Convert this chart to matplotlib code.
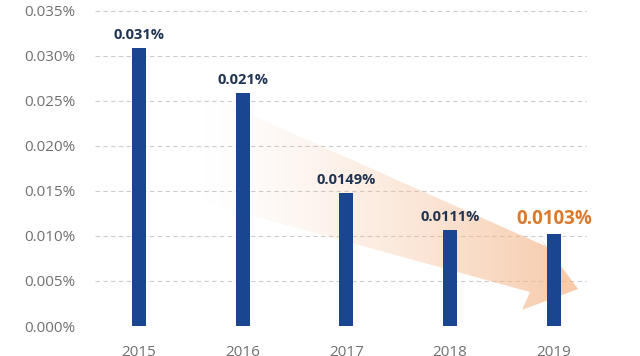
import numpy as np
import matplotlib
matplotlib.use('Agg')
import matplotlib.pyplot as plt
from matplotlib.patches import Polygon
from matplotlib.ticker import FuncFormatter

# data (values in percent)
years = ['2015', '2016', '2017', '2018', '2019']
heights = [0.0309, 0.0259, 0.0148, 0.0107, 0.0102]
labels = ['0.031%', '0.021%', '0.0149%', '0.0111%', '0.0103%']
yticks = [0.0, 0.005, 0.010, 0.015, 0.020, 0.025, 0.030, 0.035]

NAVY = '#1f3352'
BAR = '#1a4591'
ORANGE = '#dc7a2c'
GREY = '#707070'

plt.rcParams['font.family'] = ['Open Sans', 'DejaVu Sans']

fig = plt.figure(figsize=(6.4, 3.56), dpi=100)
ax = fig.add_axes([95/640, 30/356, 492/640, 326/356])
x = np.arange(len(years))

ax.set_xlim(-0.424, 4.32)
ax.set_ylim(0, 0.0362)

# soft orange trend arrow, shape given in pixels and mapped to data space
def px2d(px, py):
    return ((px - 139) / 103.7, (326 - py) / 9000.0)

arrow_px = [(195, 90), (545, 246), (540, 238), (578, 289),
            (522, 310), (530, 292), (195, 200)]
arrow = [px2d(*p) for p in arrow_px]
poly = Polygon(arrow, closed=True, facecolor='none', edgecolor='none')
ax.add_patch(poly)
xs = [p[0] for p in arrow]; ys = [p[1] for p in arrow]
grad = np.zeros((10, 256, 4))
t = np.linspace(0, 1, 256)
grad[..., 0] = 0.96; grad[..., 1] = 0.72; grad[..., 2] = 0.55
grad[..., 3] = (t ** 1.4) * 0.75
img = ax.imshow(grad, extent=[min(xs), max(xs), min(ys), max(ys)],
                aspect='auto', zorder=1, interpolation='bilinear')
img.set_clip_path(poly)

ax.set_yticks(yticks)
ax.yaxis.set_major_formatter(FuncFormatter(lambda v, p: f'{v:.3f}%'))
ax.grid(axis='y', ls=(0, (4, 3)), color='#cccccc', lw=0.8, zorder=0)
ax.set_axisbelow(True)

ax.bar(x, heights, width=0.135, color=BAR, zorder=2)

for i, (h, lab) in enumerate(zip(heights, labels)):
    if i == len(labels) - 1:
        ax.text(x[i], h + 0.0006, lab, ha='center', va='bottom',
                fontsize=13.5, fontweight='bold', color=ORANGE, zorder=3)
    else:
        ax.text(x[i], h + 0.0006, lab, ha='center', va='bottom',
                fontsize=10.5, fontweight='bold', color=NAVY, zorder=3)

ax.set_xticks(x)
ax.set_xticklabels(years)
ax.tick_params(axis='both', length=0, labelsize=11, labelcolor=GREY)
ax.tick_params(axis='x', pad=14)
ax.tick_params(axis='y', pad=14)
for s in ax.spines.values():
    s.set_visible(False)

fig.savefig('out.png', dpi=100)
